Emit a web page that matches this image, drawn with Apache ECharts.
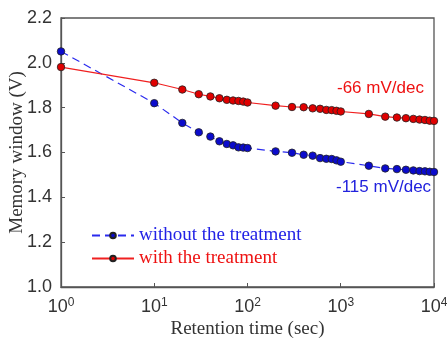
<!DOCTYPE html>
<html><head><meta charset="utf-8">
<script src="https://cdn.jsdelivr.net/npm/echarts@6/dist/echarts.min.js"></script>
<style>html,body{margin:0;padding:0;background:#fff}#c{width:447px;height:339px}</style>
</head><body><div id="c"></div>
<script>
const times = [1,10,20,30,40,50,60,70,80,90,100,200,300,400,500,600,700,800,900,1000,2000,3000,4000,5000,6000,7000,8000,9000,10000];
const withoutTreatment = [2.051,1.820,1.732,1.690,1.671,1.650,1.638,1.632,1.623,1.622,1.620,1.605,1.599,1.590,1.586,1.575,1.572,1.571,1.565,1.559,1.541,1.529,1.526,1.523,1.520,1.517,1.516,1.514,1.513];
const withTreatment = [1.981,1.911,1.881,1.860,1.850,1.842,1.835,1.832,1.830,1.827,1.823,1.809,1.803,1.802,1.797,1.795,1.790,1.789,1.786,1.783,1.772,1.760,1.756,1.753,1.750,1.747,1.745,1.742,1.741];
const seriesNames = ['without the treatment','with the treatment'];
const annotations = ['-66 mV/dec','-115 mV/dec'];
const xTickExponents = [0,1,2,3,4];
const yMin = 1.0, yMax = 2.2, yStep = 0.2;

const BLUE_LINE = '#2a2aee', BLUE_FILL = '#0b0bcc';
const RED_LINE = '#f02020', RED_FILL = '#e00000';
const axisCol = '#555';

function pair(arr){ return times.map((t,i)=>[t,arr[i]]); }

const chart = echarts.init(document.getElementById('c'), null, {renderer:'canvas'});
chart.setOption({
  animation:false,
  backgroundColor:'#fff',
  grid:{left:61,right:13,top:18,bottom:52,containLabel:false,outerBoundsMode:'none',
    show:true,borderColor:axisCol,borderWidth:1.3,backgroundColor:'transparent'},
  legend:{
    orient:'vertical', left:86, top:221, itemWidth:42, itemHeight:7, itemGap:4,
    textStyle:{fontFamily:'Liberation Serif',fontSize:19},
    data:[
      {name:seriesNames[0],textStyle:{color:'#2222e6'}},
      {name:seriesNames[1],textStyle:{color:'#ee1111'}}
    ]
  },
  xAxis:{
    type:'log', logBase:10, min:1, max:10000,
    name:'Retention time (sec)', nameLocation:'middle', nameGap:32.5, nameMoveOverlap:false,
    nameTextStyle:{fontFamily:'Liberation Serif',fontSize:19,color:'#333'},
    axisLine:{show:true,lineStyle:{color:axisCol,width:1.3}},
    axisTick:{show:true,inside:true,length:4,lineStyle:{color:axisCol}},
    minorTick:{show:false},
    splitLine:{show:false},
    axisLabel:{
      margin:10,
      formatter:function(v){
        const e = Math.round(Math.log10(v));
        if (xTickExponents.indexOf(e) < 0) return '';
        return '{b|10}{s|' + e + '}';
      },
      rich:{
        b:{fontFamily:'Liberation Sans',fontSize:18,color:'#333'},
        s:{fontFamily:'Liberation Sans',fontSize:12,color:'#333',padding:[0,0,9,0]}
      }
    }
  },
  yAxis:{
    type:'value', min:yMin, max:yMax, interval:yStep,
    name:'Memory window (V)', nameLocation:'middle', nameGap:34, nameMoveOverlap:false,
    nameTextStyle:{fontFamily:'Liberation Serif',fontSize:19,color:'#333'},
    axisLine:{show:true,lineStyle:{color:axisCol,width:1.3}},
    axisTick:{show:true,inside:true,length:4,lineStyle:{color:axisCol}},
    splitLine:{show:false},
    axisLabel:{margin:9,fontFamily:'Liberation Sans',fontSize:18,color:'#333',
      formatter:v=>v.toFixed(1)}
  },
  graphic:[
    {type:'text',left:337,top:80,style:{text:annotations[0],fontFamily:'Liberation Sans',fontSize:17,fill:'#ee1111'}},
    {type:'text',left:336,top:179,style:{text:annotations[1],fontFamily:'Liberation Sans',fontSize:17,fill:'#2222dd'}}
  ],
  series:[
    {name:seriesNames[0],type:'line',data:pair(withoutTreatment),
     symbol:'circle',symbolSize:7.5,
     lineStyle:{color:BLUE_LINE,width:1.2,type:[8,5]},
     itemStyle:{color:BLUE_FILL,borderColor:'#222',borderWidth:0.8}},
    {name:seriesNames[1],type:'line',data:pair(withTreatment),
     symbol:'circle',symbolSize:7.5,
     lineStyle:{color:RED_LINE,width:1.2},
     itemStyle:{color:RED_FILL,borderColor:'#222',borderWidth:0.8}}
  ]
});
</script></body></html>
